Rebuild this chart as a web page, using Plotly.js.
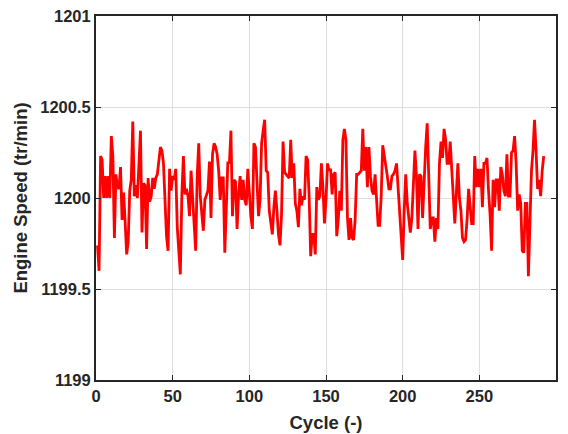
<!DOCTYPE html>
<html>
<head>
<meta charset="utf-8">
<script src="https://cdn.plot.ly/plotly-3.0.1.min.js"></script>
<style>html,body{margin:0;padding:0;background:#fff;}#chart{width:568px;height:434px;}</style>
</head>
<body>
<div id="chart"></div>
<script>
const speed1 = [1199.74,1199.60,1200.23,1200.21,1200.00,1200.12,1200.00,1200.12,1200.00,1200.34,
1200.23,1199.78,1200.13,1200.06,1200.05,1200.17,1199.88,1200.03,1199.87,1199.69,
1199.76,1200.04,1200.10,1200.42,1200.01,1200.07,1200.00,1200.23,1200.37,1199.81,
1200.08,1200.07,1199.72,1200.11,1199.98,1200.01,1200.11,1200.05,1200.11,1200.13,
1200.21,1200.28,1200.26,1200.19,1199.99,1199.79,1199.71,1200.16];
const speed2 = [1200.04,1200.12,1200.10,1200.16,1199.84,1199.72,1199.58,1200.02,1200.23,1200.02,
1200.05,1200.01,1199.90,1200.15,1200.02,1199.84,1199.71,1200.12,1200.30,1200.01,
1199.93,1199.82,1199.99,1200.01,1200.04,1200.20,1199.89,1200.24,1200.30,1200.28,
1200.24,1200.15,1199.99,1200.11,1200.11,1199.70,1200.02,1200.20,1200.19,1200.37,
1199.90,1200.10,1200.09,1199.83,1200.02];
const speed3 = [1200.12,1199.99,1200.10,1199.99,1199.96,1200.16,1200.01,1199.90,1199.83,1200.30,
1200.28,1200.05,1199.90,1199.99,1200.30,1200.37,1200.43,1200.15,1200.14,1199.93,
1199.85,1199.80,1199.95,1200.04,1199.93,1199.80,1199.74,1199.91,1200.31,1200.14,
1200.13,1200.12,1200.11,1200.32,1200.11,1200.19,1199.97,1199.93,1199.84,1200.05,
1199.96,1200.01,1199.99,1200.23,1200.21,1200.01,1199.68,1199.80,1199.80,1199.69];
const speed4 = [1200.06,1199.99,1200.01,1200.19,1200.06,1199.86,1199.99,1200.19,1200.15,1200.16,
1200.02,1200.13,1200.14,1199.79,1199.88,1200.04,1199.93,1200.32,1200.38,1200.32,
1199.89,1199.77,1199.89,1199.78,1199.77,1199.88,1200.13,1200.13,1200.14,1200.15,
1200.38,1200.15,1200.28,1200.06,1200.28,1200.12,1200.04,1200.02,1200.13,1199.95,
1199.85,1199.85,1200.01,1200.29,1200.24,1200.19,1200.12,1200.05,1200.05,1200.12,
1200.13,1200.15,1200.19];
const speed5 = [1200.06,1199.93,1199.80,1199.66,1199.93,1200.13,1199.97,1199.88,1199.81,1199.89,
1200.12,1200.26,1200.12,1199.83,1200.13,1200.12,1199.89,1200.12,1200.28,1200.41,
1200.13,1199.83,1199.89,1199.89,1199.76,1199.89,1199.83,1200.19,1200.31,1200.22,
1200.38,1200.32,1200.19,1200.19,1200.31,1200.13,1200.01,1199.86,1200.05,1200.19,
1200.00,1199.93,1199.78,1199.76,1199.77,1199.88];
const speed6 = [1200.05,1199.93,1199.86,1199.86,1200.23,1200.06,1200.16,1200.06,1200.16,1199.95,
1200.19,1200.19,1200.22,1200.04,1199.91,1199.71,1200.10,1199.95,1200.10,1200.10,
1199.93,1200.17,1200.13,1200.04,1200.01,1200.24,1200.01,1200.01,1200.25,1200.26,
1200.34,1200.19,1199.93,1200.02,1199.97,1199.71,1199.70,1199.97,1199.97,1199.57,
1199.93,1200.15,1200.26,1200.43,1200.26,1200.05,1200.10,1200.01,1200.15,1200.23];

const speed = [].concat(speed1, speed2, speed3, speed4, speed5, speed6);
const cycles = speed.map((_, i) => i + 1);

const xTicks = [0, 50, 100, 150, 200, 250, 300];
const yTicks = [1199, 1199.5, 1200, 1200.5, 1201];
const yTickText = ['1199', '1199.5', '1200', '1200.5', '1201'];

const axisColor = '#262626';
const fontFam = 'Liberation Sans, Arial, Helvetica, sans-serif';

const trace = {
  x: cycles, y: speed, type: 'scatter', mode: 'lines',
  line: {color: '#ff0000', width: 2.8},
  hoverinfo: 'skip'
};

const layout = {
  width: 568, height: 434,
  margin: {l: 96, r: 12, t: 16, b: 54},
  paper_bgcolor: '#ffffff', plot_bgcolor: '#ffffff',
  showlegend: false,
  font: {family: fontFam, size: 16.5, color: axisColor, weight: 'bold'},
  xaxis: {
    range: [0, 300], tickvals: xTicks, ticktext: xTicks.map(String),
    showgrid: true, gridcolor: '#dedede', gridwidth: 1,
    zeroline: false, showline: true, linecolor: axisColor, linewidth: 2, mirror: 'ticks',
    ticks: 'inside', ticklen: 5, tickwidth: 1, tickcolor: axisColor,
    tickfont: {family: fontFam, size: 16.5, color: axisColor, weight: 'bold'},
    title: {text: 'Cycle (-)', font: {family: fontFam, size: 18.5, color: axisColor, weight: 'bold'}, standoff: 12}
  },
  yaxis: {
    range: [1199, 1201], tickvals: yTicks, ticktext: yTickText,
    showgrid: true, gridcolor: '#dedede', gridwidth: 1,
    zeroline: false, showline: true, linecolor: axisColor, linewidth: 2, mirror: 'ticks',
    ticks: 'inside', ticklen: 5, tickwidth: 1, tickcolor: axisColor,
    tickfont: {family: fontFam, size: 16.5, color: axisColor, weight: 'bold'},
    title: {text: 'Engine Speed (tr/min)', font: {family: fontFam, size: 18.5, color: axisColor, weight: 'bold'}, standoff: 8}
  }
};

Plotly.newPlot('chart', [trace], layout, {displayModeBar: false, staticPlot: true});
</script>
</body>
</html>
